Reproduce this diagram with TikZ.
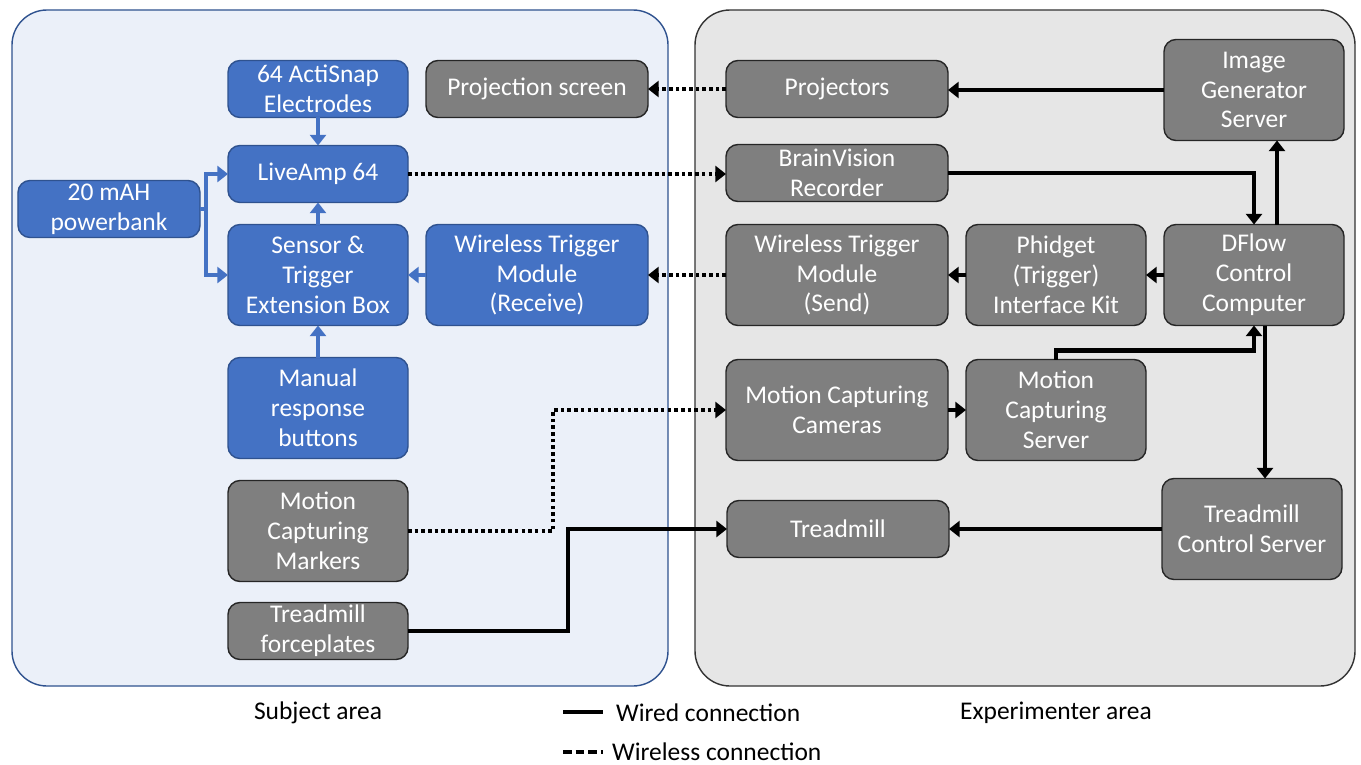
\documentclass[tikz,border=0pt]{standalone}
\usepackage{fontspec}
\setmainfont{Carlito}
\usepackage{tikz}
\usetikzlibrary{positioning, arrows.meta, calc}

\definecolor{boxblue}{HTML}{4472C4}
\definecolor{boxblueedge}{HTML}{2F528F}
\definecolor{boxgrey}{HTML}{7F7F7F}
\definecolor{subjfill}{HTML}{EBF0F9}
\definecolor{expfill}{HTML}{E6E6E6}

\tikzset{
  box/.style = {rounded corners=0.24cm, draw, line width=0.8pt, text=white, align=center,
                inner sep=1pt, outer sep=0pt, minimum height=1.14cm, minimum width=3.6cm,
                font=\fontsize{14.5}{17}\selectfont},
  bluebox/.style = {box, fill=boxblue, draw=boxblueedge},
  greybox/.style = {box, fill=boxgrey, draw=black!85},
  wide/.style = {minimum width=4.44cm},
  tall/.style = {minimum height=2.02cm},
  bluearr/.style = {draw=boxblue, line width=2pt, -{Triangle[length=6pt,width=9pt]}},
  wired/.style = {line width=2.4pt, -{Triangle[length=6pt,width=9pt]}},
  wireless/.style = {line width=2.4pt, dash pattern=on 2pt off 1.8pt, -{Triangle[length=6pt,width=9pt]}},
  arealabel/.style = {font=\fontsize{14.5}{17}\selectfont, inner sep=1pt}
}

\begin{document}
\begin{tikzpicture}
\useasboundingbox (0,0) rectangle (27.22,-15.3);
\draw[rounded corners=0.7cm, fill=subjfill, draw=boxblueedge, line width=0.8pt] (0.24,-0.2) rectangle (13.36,-13.72);
\draw[rounded corners=0.7cm, fill=expfill, draw=black!80, line width=0.8pt] (13.9,-0.2) rectangle (27.1,-13.72);

\node(elec)[bluebox] at (6.36,-1.78){64 ActiSnap\\Electrodes};
\node(live)[bluebox, below = 0.56cm of elec]{LiveAmp 64};
\node(sensor)[bluebox, tall, below = 0.44cm of live]{Sensor \&\\Trigger\\Extension Box};
\node(manual)[bluebox, tall, below = 0.64cm of sensor]{Manual\\response\\buttons};
\node(markers)[greybox, tall, below = 0.44cm of manual]{Motion\\Capturing\\Markers};
\node(force)[greybox, below = 0.42cm of markers]{Treadmill\\forceplates};
\node(power)[bluebox, minimum width=3.64cm] at (2.18,-4.18){20 mAH\\powerbank};
\node(screen)[greybox, wide, right = 0.36cm of elec]{Projection screen};
\node(receive)[bluebox, wide, tall, right = 0.36cm of sensor]{Wireless Trigger\\Module\\(Receive)};

\node(projectors)[greybox, wide, right = 1.56cm of screen]{Projectors};
\node(brainv)[greybox, wide, below = 0.54cm of projectors]{BrainVision\\Recorder};
\node(send)[greybox, wide, tall, right = 1.56cm of receive]{Wireless Trigger\\Module\\(Send)};
\node(phidget)[greybox, tall, right = 0.36cm of send]{Phidget\\(Trigger)\\Interface Kit};
\node(dflow)[greybox, tall, right = 0.36cm of phidget]{DFlow\\Control\\Computer};
\node(imggen)[greybox, tall, above = 1.68cm of dflow]{Image\\Generator\\Server};
\node(cameras)[greybox, wide, tall, below = 0.68cm of send]{Motion Capturing\\Cameras};
\node(mcserver)[greybox, tall, right = 0.36cm of cameras]{Motion\\Capturing\\Server};
\node(tcs)[greybox, tall, below = 3.06cm of dflow, xshift=-0.04cm]{Treadmill\\Control Server};
\node(treadmill)[greybox, wide, left = 4.26cm of tcs]{Treadmill};

\coordinate (split) at ($(power.east)+(0.12,0)$);
\draw[bluearr] (elec) -- (live);
\draw[bluearr] (sensor) -- (live);
\draw[bluearr] (manual) -- (sensor);
\draw[bluearr] (receive) -- (sensor);
\draw[bluearr, -] (power.east) -- (split);
\draw[bluearr] (split) |- (live.west);
\draw[bluearr] (split) |- (sensor.west);

\draw[wired] (imggen.west) -- (imggen.west -| projectors.east);
\draw[wired] (brainv.east) -| (dflow.north);
\draw[wired] ([xshift=0.46cm]dflow.north) -- ([xshift=0.46cm]imggen.south);
\draw[wired] (dflow) -- (phidget);
\draw[wired] (phidget) -- (send);
\draw[wired] (cameras) -- (mcserver);
\draw[wired] (mcserver.north) -- ++(0,0.18) -| (dflow.south);
\draw[wired] ([xshift=0.22cm]dflow.south) -- ([xshift=0.22cm]dflow.south |- tcs.north);
\draw[wired] (tcs) -- (treadmill);
\draw[wired] (force.east) -- ++(3.2,0) |- (treadmill.west);

\draw[wireless] (projectors) -- (screen);
\draw[wireless] (live.east) -- (live.east -| brainv.west);
\draw[wireless] (send) -- (receive);
\draw[wireless] (markers.east) -- ++(2.9,0) |- (cameras.west);

\node(subj)[arealabel] at (6.36,-14.26){Subject area};
\node(exp)[arealabel] at (21.12,-14.26){Experimenter area};
\draw[line width=2.4pt] (11.26,-14.24) -- (12.06,-14.24);
\node(wiredlbl)[arealabel, anchor=west] at (12.28,-14.26){Wired connection};
\draw[line width=2.6pt, dash pattern=on 5pt off 2.2pt] (11.26,-15.04) -- (12.06,-15.04);
\node(wirelesslbl)[arealabel, anchor=west] at (12.2,-15.04){Wireless connection};
\end{tikzpicture}
\end{document}
